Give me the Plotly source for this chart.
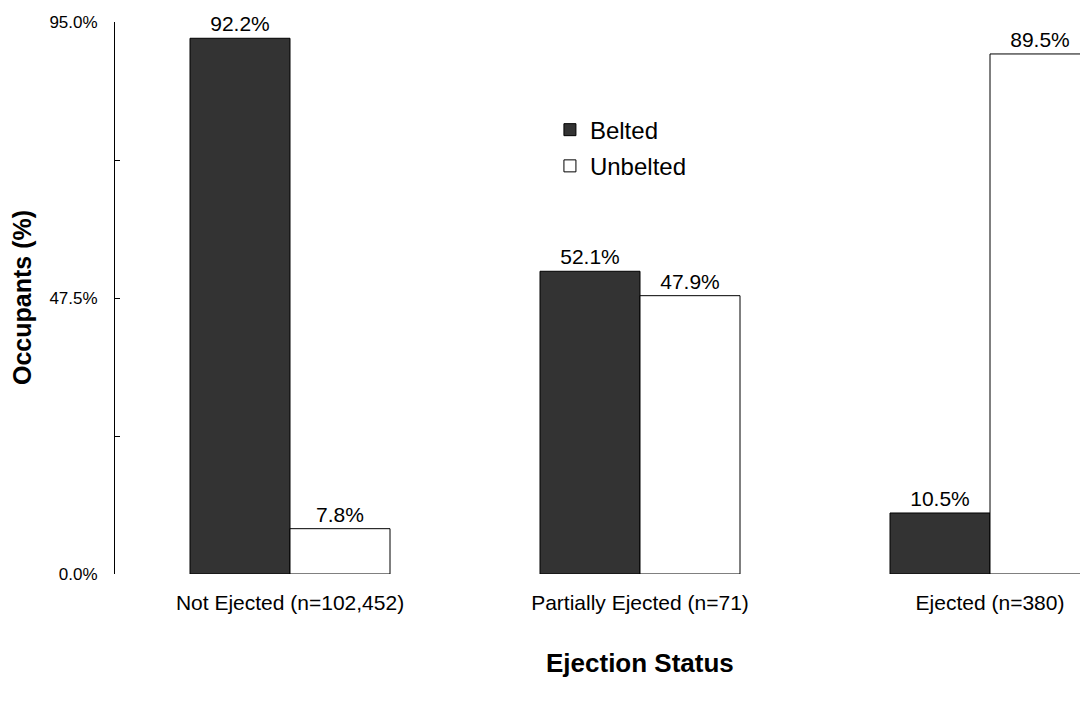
import plotly.graph_objects as go

categories = ["Not Ejected (n=102,452)", "Partially Ejected (n=71)", "Ejected (n=380)"]
belted = [92.2, 52.1, 10.5]
unbelted = [7.8, 47.9, 89.5]
y_tickvals = [0, 23.75, 47.5, 71.25, 95]
y_ticktext = ["0.0%", "", "47.5%", "", "95.0%"]

FONT = "Liberation Sans, Arial, sans-serif"

fig = go.Figure()
fig.add_trace(go.Bar(
    name="Belted", x=categories, y=belted, legendgroup="b",
    marker=dict(color="#333333", line=dict(color="#000000", width=1)),
    text=[f"{v:.1f}%" for v in belted], textposition="outside",
    textfont=dict(size=21, color="#000000", family=FONT),
    cliponaxis=False,
))
fig.add_trace(go.Bar(
    name="Unbelted", x=categories, y=unbelted, legendgroup="u",
    marker=dict(color="#ffffff", line=dict(color="#000000", width=1)),
    text=[f"{v:.1f}%" for v in unbelted], textposition="outside",
    textfont=dict(size=21, color="#000000", family=FONT),
    cliponaxis=False,
))

# page body has an 8px offset; plot area targets x 115..1088, y 22..574
fig.update_layout(
    width=1080, height=699,
    margin=dict(l=107, r=0, t=14, b=133),
    paper_bgcolor="white", plot_bgcolor="white",
    barmode="group", bargap=0.4286, bargroupgap=0,
    font=dict(family=FONT, color="#000000"),
    showlegend=True,
    legend=dict(
        x=0.447, y=0.845, xanchor="left", yanchor="top",
        font=dict(size=24, family=FONT, color="#000000"),
        bgcolor="rgba(0,0,0,0)", traceorder="grouped", tracegroupgap=2,
    ),
)
fig.update_xaxes(
    range=[-0.5, 2.28], showline=False, showgrid=False, zeroline=False,
    ticks="", tickfont=dict(size=21, family=FONT, color="#000000"),
    ticklabelstandoff=14,
)
fig.update_yaxes(
    range=[0, 95], showline=True, linecolor="#000000", linewidth=1,
    showgrid=False, zeroline=False,
    ticks="inside", ticklen=5, tickcolor="#000000", tickwidth=1,
    tickvals=y_tickvals, ticktext=y_ticktext,
    tickfont=dict(size=17, family=FONT, color="#000000"),
    ticklabelstandoff=13,
)
fig.add_annotation(
    text="<b>Ejection Status</b>", xref="paper", yref="paper",
    x=(640 - 115) / 973, y=-(663 - 574) / 552, xanchor="center", yanchor="middle",
    showarrow=False, font=dict(size=26, family=FONT, color="#000000"),
)
fig.add_annotation(
    text="<b>Occupants (%)</b>", xref="paper", yref="paper",
    x=-(115 - 22) / 973, y=0.5, xanchor="center", yanchor="middle",
    textangle=-90, showarrow=False, font=dict(size=25, family=FONT, color="#000000"),
)

fig.write_html("out.html")
